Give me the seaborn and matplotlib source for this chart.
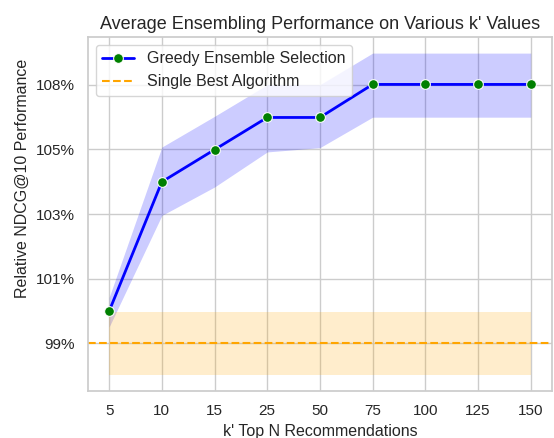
import numpy as np
import pandas as pd
import matplotlib
matplotlib.use("Agg")
import matplotlib.pyplot as plt
import seaborn as sns

# k' values (categorical on the x axis)
k_values = ["5", "10", "15", "25", "50", "75", "100", "125", "150"]

# greedy ensemble selection: relative performance, with lower / upper band
ens_mean = [1.0012, 1.0462, 1.0574, 1.0686, 1.0686, 1.0801, 1.0801, 1.0801, 1.0801]
ens_low = [0.9957, 1.0345, 1.0444, 1.0566, 1.0581, 1.0687, 1.0687, 1.0687, 1.0687]
ens_high = [1.0060, 1.0583, 1.0690, 1.0800, 1.0800, 1.0910, 1.0910, 1.0910, 1.0910]

# single best algorithm baseline
sba_mean = 0.99
sba_low = 0.979
sba_high = 1.001

ytick_values = np.linspace(0.99, 1.08, 5)
ytick_labels = ["99%", "101%", "103%", "105%", "108%"]

sns.set_theme(style="whitegrid", context="notebook")
plt.rcParams['font.family'] = ['Liberation Sans', 'DejaVu Sans']

df = pd.DataFrame({"k": k_values, "perf": ens_mean})

fig, ax = plt.subplots(figsize=(5.54, 4.38), dpi=100)
fig.subplots_adjust(left=0.159, right=0.996, top=0.9155, bottom=0.1073)

sns.lineplot(data=df, x="k", y="perf", sort=False, ax=ax, color="blue",
             marker="o", markerfacecolor="green", markeredgecolor="white",
             markersize=7, linewidth=2, label="Greedy Ensemble Selection")
ax.fill_between(k_values, ens_low, ens_high, color="blue", alpha=0.2, linewidth=0)

ax.axhline(sba_mean, color="orange", linestyle="--", linewidth=1.5,
           label="Single Best Algorithm")
ax.fill_between(k_values, [sba_low] * len(k_values), [sba_high] * len(k_values),
                color="orange", alpha=0.2, linewidth=0)

ax.set_yticks(ytick_values)
ax.set_yticklabels(ytick_labels)
ax.tick_params(labelsize=11)

ax.set_title("Average Ensembling Performance on Various k' Values", fontsize=13)
ax.set_xlabel("k' Top N Recommendations", fontsize=11.5)
ax.set_ylabel("Relative NDCG@10 Performance", fontsize=11.5, y=0.6)
ax.legend(loc="upper left", fontsize=11.5)

fig.savefig("out.png", dpi=100)
